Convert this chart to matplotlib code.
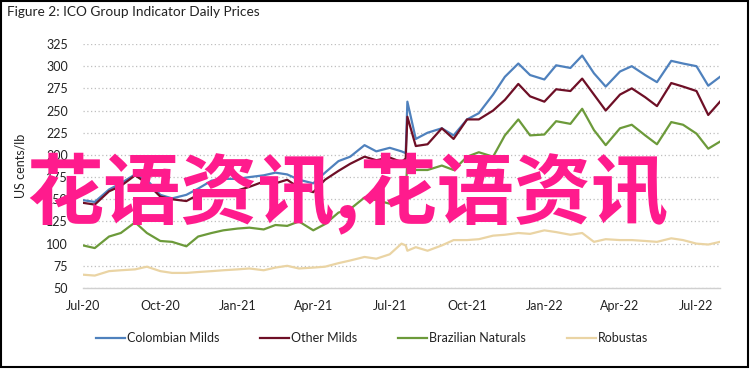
import matplotlib
matplotlib.use('Agg')
import matplotlib.pyplot as plt
import matplotlib.dates as mdates
from matplotlib.patches import Rectangle
import pandas as pd

# -------------------- DATA (roughly twice a month) --------------------
dates = [
    "2020-07-01", "2020-07-15", "2020-08-01", "2020-08-15", "2020-09-01", "2020-09-15",
    "2020-10-01", "2020-10-15", "2020-11-01", "2020-11-15", "2020-12-01", "2020-12-15",
    "2021-01-01", "2021-01-15", "2021-02-01", "2021-02-15", "2021-03-01", "2021-03-15",
    "2021-04-01", "2021-04-15", "2021-05-01", "2021-05-15", "2021-06-01", "2021-06-15",
    "2021-07-01", "2021-07-15", "2021-07-20", "2021-07-22",
    "2021-08-01", "2021-08-15", "2021-09-01", "2021-09-15", "2021-10-01", "2021-10-15",
    "2021-11-01", "2021-11-15", "2021-12-01", "2021-12-15",
    "2022-01-01", "2022-01-15", "2022-02-01", "2022-02-15", "2022-03-01", "2022-03-15",
    "2022-04-01", "2022-04-15", "2022-05-01", "2022-05-15", "2022-06-01", "2022-06-15",
    "2022-07-01", "2022-07-15", "2022-07-29",
]

colombian_milds = [
    149, 147, 161, 168, 178, 172, 155, 151, 155, 162, 171, 173,
    173, 175, 177, 180, 178, 172, 168, 180, 193, 198, 211, 204,
    208, 204, 202, 260,
    218, 225, 230, 222, 240, 247, 268, 288, 303, 290,
    285, 301, 298, 312, 292, 277, 294, 300, 290, 282, 306, 303,
    300, 278, 288,
]

other_milds = [
    146, 144, 159, 165, 177, 168, 153, 150, 148, 155, 158, 160,
    160, 164, 170, 168, 172, 163, 158, 172, 182, 190, 198, 194,
    197, 192, 196, 243,
    210, 212, 230, 218, 240, 240, 250, 262, 280, 266,
    260, 274, 272, 286, 268, 250, 268, 275, 265, 255, 281, 277,
    272, 245, 260,
]

brazilian_naturals = [
    98, 95, 108, 112, 124, 112, 103, 102, 97, 108, 112, 115,
    117, 118, 116, 121, 120, 125, 115, 122, 135, 139, 152, 149,
    145, 150, 155, 195,
    183, 183, 188, 183, 198, 203, 198, 222, 240, 222,
    223, 238, 235, 252, 228, 211, 230, 234, 222, 212, 237, 234,
    224, 207, 215,
]

robustas = [
    65, 64, 69, 70, 71, 74, 69, 67, 67, 68, 69, 70,
    71, 72, 70, 73, 75, 72, 73, 74, 78, 81, 85, 83,
    88, 100, 98, 92,
    96, 92, 98, 104, 104, 105, 109, 110, 112, 111,
    115, 113, 110, 112, 102, 105, 104, 104, 103, 102, 106, 104,
    100, 99, 102,
]

series_names = ["Colombian Milds", "Other Milds", "Brazilian Naturals", "Robustas"]
series_colors = ["#4F81BD", "#6E0F26", "#6C9A3A", "#EAD4A4"]
y_ticks = [50, 75, 100, 125, 150, 175, 200, 225, 250, 275, 300, 325]

# -------------------- FIGURE --------------------
plt.rcParams['font.family'] = ['Lato', 'DejaVu Sans']

fig = plt.figure(figsize=(7.51, 3.70), dpi=100)
W, H = 751, 370
ax = fig.add_axes([83 / W, (H - 288) / H, (720 - 83) / W, (288 - 44) / H])

x = pd.to_datetime(dates)
for vals, name, col in zip(
    [colombian_milds, other_milds, brazilian_naturals, robustas], series_names, series_colors
):
    ax.plot(x, vals, color=col, linewidth=1.6, label=name)

ax.set_xlim(pd.Timestamp("2020-07-01"), pd.Timestamp("2022-07-29"))
ax.set_ylim(50, 325)
ax.set_yticks(y_ticks)
ax.xaxis.set_major_locator(mdates.MonthLocator(bymonth=[1, 4, 7, 10]))
ax.xaxis.set_major_formatter(mdates.DateFormatter("%b-%y"))

ax.grid(axis='y', linestyle=(0, (1, 2)), color="#BFBFBF", linewidth=0.9)
ax.set_axisbelow(True)
for side in ["top", "right", "left"]:
    ax.spines[side].set_visible(False)
ax.spines["bottom"].set_color("#D0D0D0")
ax.spines["bottom"].set_linewidth(1.0)
ax.tick_params(axis='both', length=0, labelsize=9, colors="#222222")
ax.tick_params(axis='y', pad=11)
ax.tick_params(axis='x', pad=9)
ax.set_ylabel("US cents/lb", fontsize=9, color="#222222", labelpad=14)

# -------------------- TITLE / LEGEND --------------------
fig.text(7 / W, 1 - 12 / H, "Figure 2: ICO Group Indicator Daily Prices",
         fontsize=9.8, color="#222222", va='center', ha='left')

fig.legend(loc='center', bbox_to_anchor=(372 / W, 1 - 338 / H), ncol=4, frameon=False,
           fontsize=9, handlelength=2.3, handletextpad=0.15, columnspacing=3.3,
           labelcolor="#222222")

# -------------------- WATERMARK --------------------
fig.text(26 / W, 1 - 193 / H, "花语资讯,花语资讯", fontsize=55.5, fontweight='bold',
         color="#FF1B8D", ha='left', va='center', zorder=10,
         family=['Noto Sans CJK SC', 'DejaVu Sans'])

# -------------------- FRAME --------------------
fig.patches.append(Rectangle((0.5 / W, 3 / H), 747.5 / W, (H - 3.5) / H,
                             transform=fig.transFigure, fill=False,
                             edgecolor="black", linewidth=1.5))

fig.savefig("out.png", dpi=100)
plt.close(fig)
